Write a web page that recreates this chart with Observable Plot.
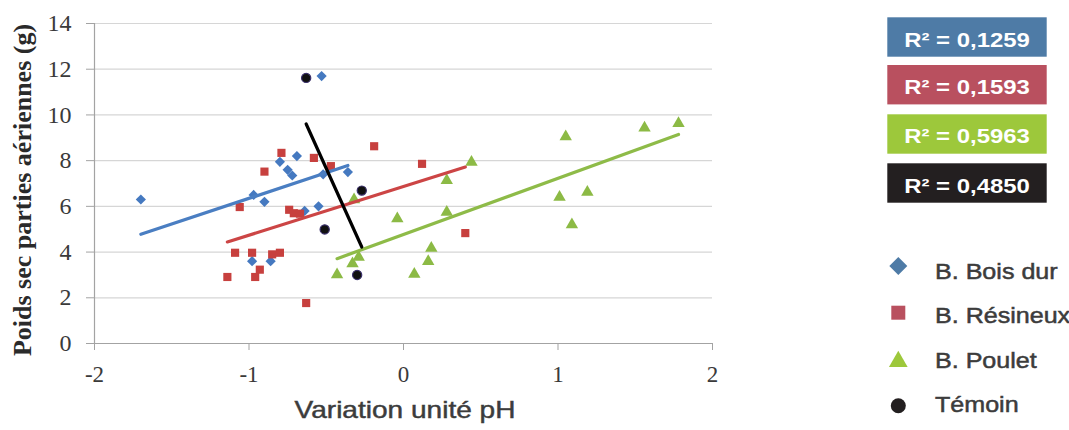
<!DOCTYPE html>
<html>
<head>
<meta charset="utf-8">
<script src="https://cdn.jsdelivr.net/npm/d3@7"></script>
<script src="https://cdn.jsdelivr.net/npm/@observablehq/plot@0.6"></script>
<style>
  body { margin: 0; background: #ffffff; }
  #wrap { position: relative; width: 1069px; height: 430px; overflow: hidden; background: #fff; }
  #wrap svg { position: absolute; left: 0; top: 0; }
</style>
</head>
<body>
<div id="wrap"></div>
<script>
// ---- Data ----
const boisX = [-1.70, -0.97, -0.90, -0.64, -0.55, -0.98, -0.86, -0.53, -0.80, -0.69, -0.75, -0.72, -0.52, -0.36];
const boisY = [6.30, 6.50, 6.20, 5.80, 6.00, 3.60, 3.60, 11.70, 7.95, 8.20, 7.60, 7.35, 7.40, 7.50];

const resineuxX = [-0.79, -0.90, -0.58, -0.47, -0.19, -1.06, -0.74, -0.71, -0.67, -1.09, -0.98, -0.85, -0.80, -1.14, -0.96, -0.93, -0.63, 0.12, 0.40];
const resineuxY = [8.34, 7.52, 8.12, 7.76, 8.63, 5.97, 5.85, 5.70, 5.68, 3.97, 3.97, 3.90, 3.97, 2.91, 2.91, 3.23, 1.77, 7.86, 4.83];

const pouletX = [-0.32, -0.04, -0.43, -0.33, -0.29, 1.05, 1.56, 1.78, 0.44, 0.28, 1.01, 1.19, 0.28, 1.09, 0.18, 0.16, 0.07];
const pouletY = [6.29, 5.46, 3.01, 3.49, 3.78, 9.05, 9.43, 9.63, 7.93, 7.13, 6.40, 6.62, 5.75, 5.20, 4.17, 3.59, 3.03];

const temoinX = [-0.63, -0.27, -0.51, -0.30];
const temoinY = [11.62, 6.69, 4.99, 3.00];

const seriesNames = ["B. Bois dur", "B. Résineux", "B. Poulet", "Témoin"];
const r2Labels = ["R\u00B2 = 0,1259", "R\u00B2 = 0,1593", "R\u00B2 = 0,5963", "R\u00B2 = 0,4850"];

const xTicks = [-2, -1, 0, 1, 2];
const yTicks = [0, 2, 4, 6, 8, 10, 12, 14];

const xTitle = "Variation unité pH";
const yTitle = "Poids sec parties aériennes (g)";

// ---- Styles ----
const pointColors = ["#4579C0", "#C7403E", "#8CBA45", "#111111"];
const lineColors  = ["#4A7EC2", "#CC4545", "#8EBB48", "#000000"];
const boxColors   = ["#4E7BA6", "#B9505F", "#9DC83B", "#231F20"];
const symbols     = ["diamond2", "square", "triangle", "circle"];

const rows = (xs, ys) => xs.map((x, i) => ({x, y: ys[i]}));
const sets = [rows(boisX, boisY), rows(resineuxX, resineuxY), rows(pouletX, pouletY), rows(temoinX, temoinY)];

const dotMarks = sets.map((d, i) => Plot.dot(d, {
  x: "x", y: "y", symbol: () => symbols[i], r: 4.6,
  fill: pointColors[i],
  stroke: i === 3 ? "#3a2f6b" : "none", strokeWidth: 1.2
}));
const lineMarks = sets.map((d, i) => Plot.linearRegressionY(d, {
  x: "x", y: "y", ci: 0, stroke: lineColors[i], strokeWidth: 3.2
}));

const chart = Plot.plot({
  width: 1069, height: 430,
  marginLeft: 94, marginRight: 357, marginTop: 23, marginBottom: 87,
  style: {fontFamily: "'Liberation Serif', 'Times New Roman', serif", background: "transparent", overflow: "visible"},
  x: {domain: [-2, 2]},
  y: {domain: [0, 14]},
  symbol: {type: "identity"},
  marks: [
    Plot.gridY(yTicks.filter(d => d !== 0), {stroke: "#d6d6d6", strokeOpacity: 1, strokeWidth: 1.2}),
    Plot.ruleY([0], {stroke: "#a3a3a3", strokeWidth: 1.2}),
    Plot.ruleX([-2], {stroke: "#a3a3a3", strokeWidth: 1.2}),
    Plot.axisY(yTicks, {tickSize: 8, tickPadding: 15, stroke: "#a3a3a3", fill: "#3a3a3a", fontSize: 24, label: null, tickFormat: d => String(d)}),
    Plot.axisX(xTicks, {tickSize: 7, tickPadding: 15, stroke: "#a3a3a3", fill: "#3a3a3a", fontSize: 23, label: null, tickFormat: d => String(d)}),
    ...dotMarks,
    ...lineMarks
  ]
});
document.getElementById("wrap").appendChild(chart);

// ---- Overlay: titles and legend ----
const ov = d3.select("#wrap").append("svg")
  .attr("width", 1069).attr("height", 430);

ov.append("text")
  .attr("transform", "translate(405,418) scale(1.22,1)")
  .attr("text-anchor", "middle")
  .attr("font-family", "'Liberation Sans', Arial, sans-serif")
  .attr("font-size", 23)
  .attr("fill", "#3c3c3c")
  .attr("stroke", "#3c3c3c").attr("stroke-width", 0.45)
  .text(xTitle);

ov.append("text")
  .attr("transform", "translate(31,190) rotate(-90)")
  .attr("text-anchor", "middle")
  .attr("font-family", "'Liberation Serif', 'Times New Roman', serif")
  .attr("font-weight", "bold")
  .attr("font-size", 26)
  .attr("fill", "#2a2a2a")
  .text(yTitle);

const boxTops = [17.3, 65, 114.3, 163.3];
const boxBase = [46.7, 94.3, 143.3, 192.7];
boxTops.forEach((t, i) => {
  ov.append("rect").attr("x", 887.3).attr("y", t).attr("width", 159.4).attr("height", 39.4).attr("fill", boxColors[i]);
  ov.append("text")
    .attr("transform", `translate(967,${boxBase[i]}) scale(1.14,1)`)
    .attr("text-anchor", "middle")
    .attr("font-family", "'Liberation Sans', Arial, sans-serif")
    .attr("font-weight", "bold")
    .attr("font-size", 21)
    .attr("fill", "#ffffff")
    .text(r2Labels[i]);
});

const symY = [266, 312.7, 361.5, 405.7];
const symSize = [206, 196, 151, 177];
const d3sym = [d3.symbolDiamond2, d3.symbolSquare, d3.symbolTriangle, d3.symbolCircle];
const labBase = [279, 322.7, 367.7, 411.7];
seriesNames.forEach((name, i) => {
  ov.append("path")
    .attr("transform", `translate(898.3,${symY[i]})`)
    .attr("d", d3.symbol(d3sym[i], symSize[i])())
    .attr("fill", boxColors[i]);
  ov.append("text")
    .attr("transform", `translate(935,${labBase[i]}) scale(1.14,1)`)
    .attr("font-family", "'Liberation Sans', Arial, sans-serif")
    .attr("font-size", 22)
    .attr("fill", "#3c3c3c")
    .attr("stroke", "#3c3c3c").attr("stroke-width", 0.5)
    .text(name);
});
</script>
</body>
</html>
